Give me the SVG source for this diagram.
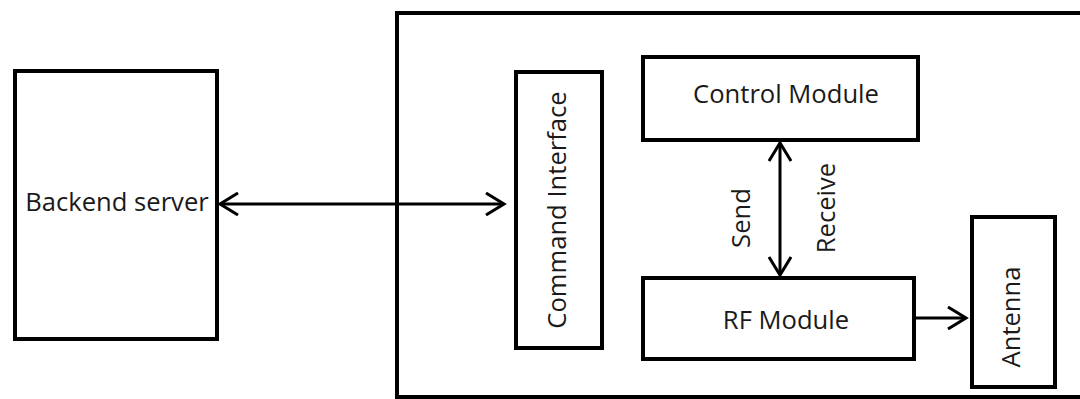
<svg xmlns="http://www.w3.org/2000/svg" width="1080" height="399" viewBox="0 0 1080 399">
<defs>
<style>
.box{fill:none;stroke:#000;stroke-width:4}
.lbl{font-family:"Open Sans","Noto Sans",sans-serif;font-size:25.6px;fill:#1a1a1a}
.conn{fill:none;stroke:#000;stroke-width:3}
</style>
<marker id="arr" viewBox="0 0 24 24" refX="21" refY="12" markerWidth="24" markerHeight="24" markerUnits="userSpaceOnUse" orient="auto-start-reverse">
<path d="M3 1 L21 12 L3 23" fill="none" stroke="#000" stroke-width="3"/>
</marker>
</defs>
<rect width="1080" height="399" fill="#fff"/>
<g id="system">
<rect class="box" x="397" y="13" width="700" height="384"/>
</g>
<g id="backend">
<rect class="box" x="15" y="71" width="202" height="268"/>
<text class="lbl" x="117" y="211" text-anchor="middle">Backend server</text>
</g>
<g id="command">
<rect class="box" x="516" y="72" width="86" height="276"/>
<text class="lbl" transform="translate(566 210) rotate(-90)" text-anchor="middle">Command Interface</text>
</g>
<g id="control">
<rect class="box" x="643" y="57" width="275" height="83"/>
<text class="lbl" x="786" y="103" text-anchor="middle">Control Module</text>
</g>
<g id="rf">
<rect class="box" x="643" y="278" width="271" height="81"/>
<text class="lbl" x="786" y="329" text-anchor="middle">RF Module</text>
</g>
<g id="antenna">
<rect class="box" x="972" y="217" width="83" height="170"/>
<text class="lbl" transform="translate(1020 317) rotate(-90)" text-anchor="middle">Antenna</text>
</g>
<g id="connectors">
<line class="conn" x1="220" y1="204" x2="504" y2="204" marker-start="url(#arr)" marker-end="url(#arr)"/>
<line class="conn" x1="780" y1="143" x2="780" y2="275" marker-start="url(#arr)" marker-end="url(#arr)"/>
<line class="conn" x1="914" y1="318" x2="966" y2="318" marker-end="url(#arr)"/>
<text class="lbl" transform="translate(750 218) rotate(-90)" text-anchor="middle">Send</text>
<text class="lbl" transform="translate(835 208) rotate(-90)" text-anchor="middle">Receive</text>
</g>
</svg>
